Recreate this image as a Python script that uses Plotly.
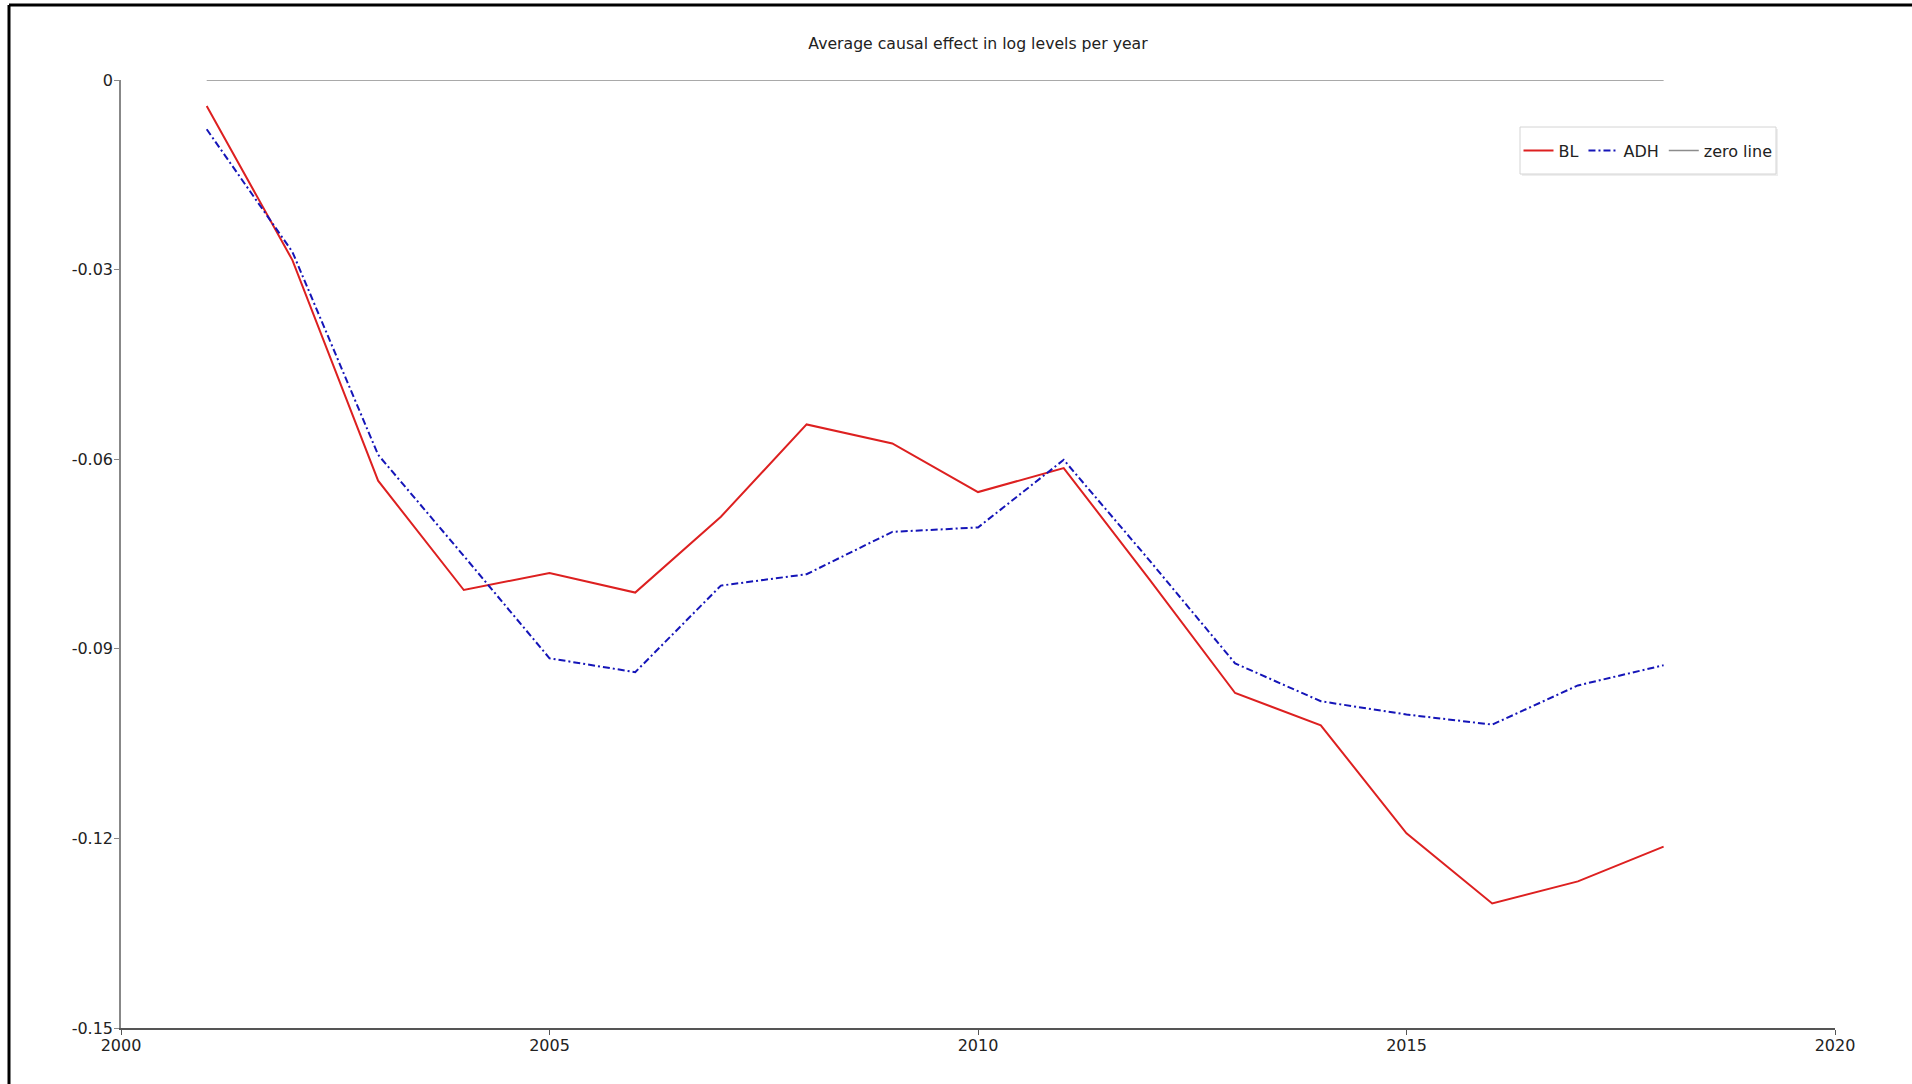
import plotly.graph_objects as go

# Yearly average causal effect (log levels)
years = list(range(2001, 2019))
bl = [-0.0041, -0.0285, -0.0634, -0.0807, -0.0780, -0.0811, -0.0691, -0.0545, -0.0575,
      -0.0652, -0.0614, -0.0790, -0.0970, -0.1021, -0.1192, -0.1303, -0.1268, -0.1213]
adh = [-0.0078, -0.0272, -0.0593, -0.0753, -0.0915, -0.0937, -0.0800, -0.0782, -0.0715,
       -0.0708, -0.0601, -0.0760, -0.0923, -0.0983, -0.1004, -0.1020, -0.0958, -0.0926]
zero = [0.0] * len(years)

y_ticks = [0, -0.03, -0.06, -0.09, -0.12, -0.15]
y_tick_text = ["0", "-0.03", "-0.06", "-0.09", "-0.12", "-0.15"]
x_ticks = [2000, 2005, 2010, 2015, 2020]

FONT = "DejaVu Sans, Verdana, sans-serif"

fig = go.Figure()
fig.add_trace(go.Scatter(x=years, y=bl, mode="lines", name="BL",
                         line=dict(color="#dd2020", width=2)))
fig.add_trace(go.Scatter(x=years, y=adh, mode="lines", name="ADH",
                         line=dict(color="#1515b8", width=2, dash="7px,3px,2px,3px")))
fig.add_trace(go.Scatter(x=years, y=zero, mode="lines", name="zero line",
                         line=dict(color="#8c8c8c", width=1.5)))

W, H = 1912, 1084
L, R, T, B = 121, 77, 80, 56
pw, ph = W - L - R, H - T - B


def px_x(p):
    return (p - L) / pw


def px_y(p):
    return (H - B - p) / ph


# legend frame (pixel box on the page)
LG_X0, LG_X1, LG_Y0, LG_Y1 = 1520, 1776, 127, 174

fig.update_layout(
    width=W, height=H,
    margin=dict(l=L, r=R, t=T, b=B),
    paper_bgcolor="white", plot_bgcolor="white",
    font=dict(family=FONT, size=16, color="#222222"),
    title=dict(text="Average causal effect in log levels per year",
               font=dict(family=FONT, size=15.7, color="#222222"),
               x=0.5, xref="paper", xanchor="center",
               y=1 - 44 / H, yref="container", yanchor="middle"),
    xaxis=dict(range=[2000, 2020], tickvals=x_ticks, showgrid=False, zeroline=False,
               showline=True, linecolor="#555555", linewidth=1.5,
               ticks="outside", ticklen=5, tickcolor="#555555", ticklabelstandoff=-3,
               tickfont=dict(family=FONT, size=16, color="#222222")),
    yaxis=dict(range=[-0.15, 0], tickvals=y_ticks, ticktext=y_tick_text,
               showgrid=False, zeroline=False,
               showline=True, linecolor="#888888", linewidth=1.5,
               ticks="outside", ticklen=5, tickcolor="#888888", ticklabelstandoff=-2,
               tickfont=dict(family=FONT, size=16, color="#222222")),
    legend=dict(orientation="h", x=px_x((LG_X0 + LG_X1) / 2), y=px_y((LG_Y0 + LG_Y1) / 2),
                xanchor="center", yanchor="middle",
                bgcolor="rgba(0,0,0,0)", borderwidth=0,
                font=dict(family=FONT, size=16, color="#222222"),
                itemwidth=30, tracegroupgap=0),
    showlegend=True,
    shapes=[
        # soft shadow + frame behind the legend
        dict(type="rect", xref="paper", yref="paper", layer="below",
             x0=px_x(LG_X0 + 2), x1=px_x(LG_X1 + 2), y0=px_y(LG_Y0 + 2), y1=px_y(LG_Y1 + 2),
             fillcolor="#eeeeee", line=dict(width=0)),
        dict(type="rect", xref="paper", yref="paper", layer="below",
             x0=px_x(LG_X0), x1=px_x(LG_X1), y0=px_y(LG_Y0), y1=px_y(LG_Y1),
             fillcolor="white", line=dict(color="#d4d4d4", width=1)),
        # outer frame
        dict(type="line", xref="paper", yref="paper",
             x0=px_x(9), x1=px_x(W + 5), y0=px_y(5), y1=px_y(5),
             line=dict(color="black", width=3)),
        dict(type="line", xref="paper", yref="paper",
             x0=px_x(9), x1=px_x(9), y0=px_y(5), y1=px_y(H + 5),
             line=dict(color="black", width=3)),
    ],
)

fig.write_html("out.html")
